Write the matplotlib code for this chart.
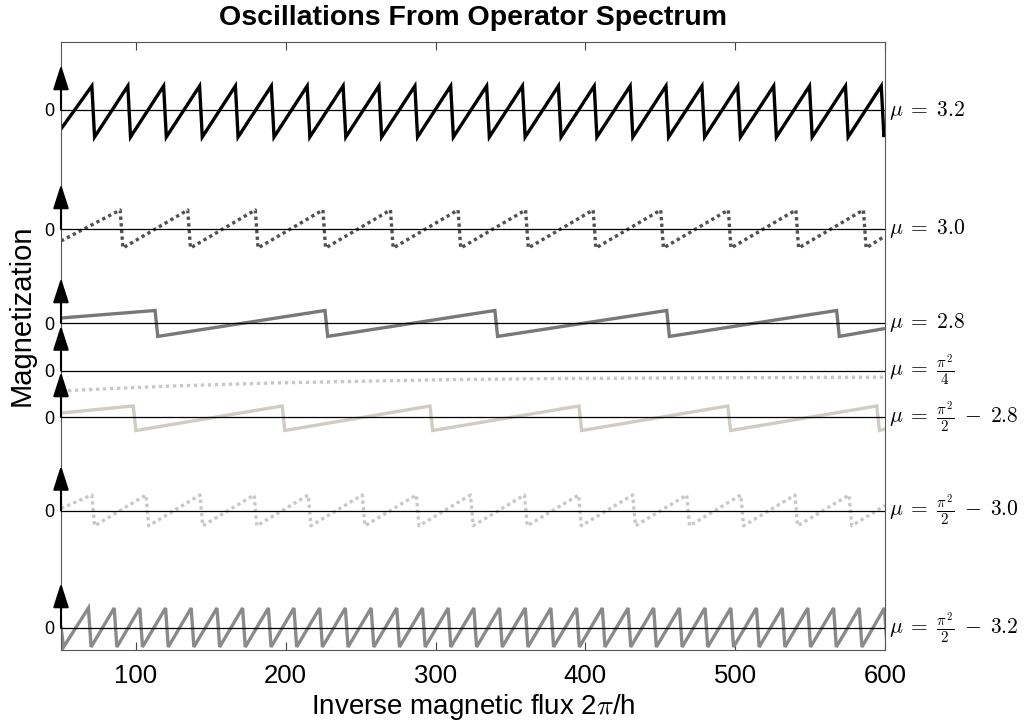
import matplotlib
matplotlib.use("Agg")
import matplotlib.pyplot as plt
import matplotlib.transforms as mtransforms

plt.rcParams['font.family'] = ['Liberation Sans', 'DejaVu Sans']
plt.rcParams['mathtext.fontset'] = 'cm'

# ---------------- data ----------------
labels = [r'$\mu\;=\;3.2$', r'$\mu\;=\;3.0$', r'$\mu\;=\;2.8$', r'$\mu\;=\;\frac{\pi^2}{4}$',
          r'$\mu\;=\;\frac{\pi^2}{2}\;-\;2.8$', r'$\mu\;=\;\frac{\pi^2}{2}\;-\;3.0$',
          r'$\mu\;=\;\frac{\pi^2}{2}\;-\;3.2$']

# sawtooth series: jump positions (x), value just before jump (peak), just after (trough),
# value at the left edge (start) and at the right edge (end)
jumps_32 = [70.6, 94.6, 118.5, 142.5, 166.4, 190.4, 214.3, 238.3, 262.2, 286.2, 310.1,
            334.1, 358.0, 382.0, 405.9, 429.9, 453.8, 477.8, 501.7, 525.7, 549.6, 573.6, 597.5]
peak_32, trough_32, start_32, end_32 = 24, -27, -19, -22

jumps_30 = [89.5, 134.6, 179.7, 224.8, 269.9, 315.0, 360.1, 405.2, 450.3, 495.4, 540.5, 585.6]
peak_30, trough_30, start_30, end_30 = 19, -19, -12, -7

jumps_28 = [112.8, 226.2, 339.6, 454.3, 567.7]
peak_28, trough_28, start_28, end_28 = 12.5, -13.4, 5, -5.5

pi4_x = [50, 80, 125, 190, 260, 315, 385, 500, 600]
pi4_y = [-20.5, -18.3, -15.5, -12.5, -10.5, -9, -8, -7.2, -6.7]

jumps_m28 = [98.2, 197.6, 296.3, 395.7, 495.1, 594.5]
peak_m28, trough_m28, start_m28, end_m28 = 11, -13.5, 4, -12

jumps_m30 = [70.6, 106.7, 142.8, 178.9, 215.0, 251.1, 287.2, 323.3, 359.4, 395.5, 431.6,
             467.7, 503.8, 539.9, 576.0]
peak_m30, trough_m30, start_m30, end_m30 = 15.5, -15.3, 2, 5

jumps_m32 = [49.9, 68.3, 85.5, 102.6, 119.8, 136.9, 154.1, 171.2, 188.4, 205.5, 222.7, 239.8,
             257.0, 274.1, 291.3, 308.4, 325.6, 342.7, 359.9, 377.0, 394.2, 411.3, 428.5,
             445.6, 462.8, 479.9, 497.1, 514.2, 531.4, 548.5, 565.7, 582.8, 599.6]
peak_m32, trough_m32, start_m32, end_m32 = 20, -19, 1, -17

xticks = [100, 200, 300, 400, 500, 600]

# ---------------- layout / style ----------------
X0, X1 = 50, 600
offsets = [540, 421, 327, 279.5, 233, 139.5, 22]
colors = ['#000000', '#505050', '#787878', '#c8c8c8', '#d1ccc3', '#c8c8c8', '#8a8a8a']
styles = ['-', (0, (1, 1)), '-', (0, (1, 1.1)), '-', (0, (1, 1)), '-']
DW = 1.8


def saw(jumps, peak, trough, start, end):
    xs, ys = [X0], [start]
    for j in jumps:
        if j > X0:
            xs.append(j)
            ys.append(peak)
        xs.append(j + DW)
        ys.append(trough)
    if xs[-1] < X1:
        xs.append(X1)
        ys.append(end)
    return xs, ys


curves = [
    saw(jumps_32, peak_32, trough_32, start_32, end_32),
    saw(jumps_30, peak_30, trough_30, start_30, end_30),
    saw(jumps_28, peak_28, trough_28, start_28, end_28),
    (pi4_x, pi4_y),
    saw(jumps_m28, peak_m28, trough_m28, start_m28, end_m28),
    saw(jumps_m30, peak_m30, trough_m30, start_m30, end_m30),
    saw(jumps_m32, peak_m32, trough_m32, start_m32, end_m32),
]

fig = plt.figure(figsize=(10.24, 7.27), dpi=100)
ax = fig.add_axes([61 / 1024, 1 - 650 / 727, (885 - 61) / 1024, (650 - 42) / 727])

for (xs, ys), off, c, ls in zip(curves, offsets, colors, styles):
    ax.plot(xs, [y + off for y in ys], color=c, lw=2.4, linestyle=ls,
            solid_joinstyle='miter', zorder=2)
    ax.axhline(off, color='k', lw=0.9, zorder=3)
    ax.annotate('', xy=(X0, off + 45), xytext=(X0, off),
                arrowprops=dict(arrowstyle='-|>,head_length=0.75,head_width=0.24',
                                color='k', lw=1.5, mutation_scale=20,
                                shrinkA=0, shrinkB=0),
                annotation_clip=False, zorder=4)

trans = mtransforms.blended_transform_factory(ax.transAxes, ax.transData)
for lab, off in zip(labels, offsets):
    ax.text(1.005, off, lab, transform=trans, ha='left', va='center', fontsize=15.5)

ax.set_xlim(X0, X1)
ax.set_ylim(0, 608)
ax.set_xticks(xticks)
ax.set_xticklabels([str(t) for t in xticks])
ax.tick_params(axis='x', direction='in', top=True, length=6, width=0.8,
               labelsize=18.5, pad=10, color='#444444')
ax.set_yticks(offsets)
ax.set_yticklabels(['0'] * len(offsets))
ax.tick_params(axis='y', length=0, labelsize=13, pad=5)
for s in ax.spines.values():
    s.set_color('#555555')
    s.set_linewidth(0.8)

ax.set_xlabel(r'Inverse magnetic flux 2$\pi$/h', fontsize=20, labelpad=3)
ax.set_ylabel('Magnetization', fontsize=21)
ax.yaxis.set_label_coords(-0.031, 0.55)
ax.set_title('Oscillations From Operator Spectrum', fontsize=20.5, fontweight='bold', pad=12)

fig.savefig('out.png', dpi=100)
